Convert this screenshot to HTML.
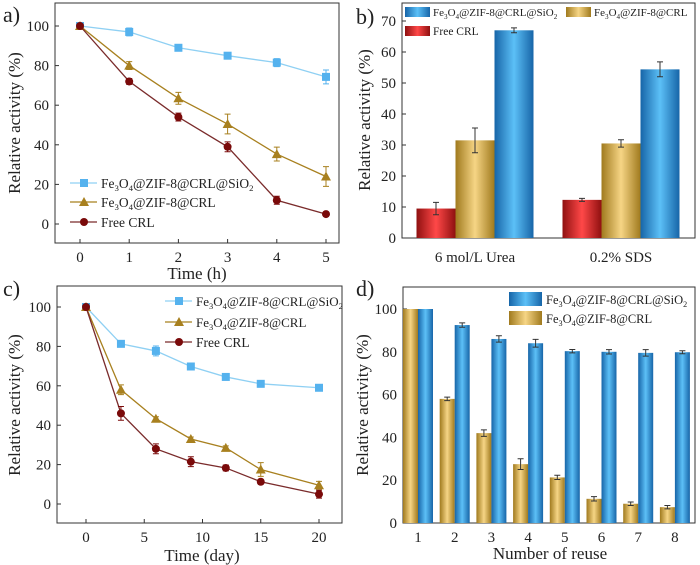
<!DOCTYPE html>
<html><head><meta charset="utf-8"><style>
html,body{margin:0;padding:0;background:#fff}
svg{display:block;font-family:"Liberation Serif",serif}
</style></head><body>
<svg id="s" width="700" height="565" viewBox="0 0 700 565" xmlns="http://www.w3.org/2000/svg">
<defs>
<linearGradient id="gB" x1="0" x2="1"><stop offset="0" stop-color="#1765a8"/><stop offset="0.5" stop-color="#5cc0f7"/><stop offset="1" stop-color="#1765a8"/></linearGradient>
<linearGradient id="gG" x1="0" x2="1"><stop offset="0" stop-color="#a07a1e"/><stop offset="0.5" stop-color="#f6d585"/><stop offset="1" stop-color="#a07a1e"/></linearGradient>
<linearGradient id="gR" x1="0" x2="1"><stop offset="0" stop-color="#8f1010"/><stop offset="0.5" stop-color="#ff4848"/><stop offset="1" stop-color="#8f1010"/></linearGradient>
</defs>
</svg>
<script>
// ---- data ----
const aX=[0,1,2,3,4,5];
const aSi=[100,97,89,85,81.5,74.3], aSiE=[0,2,1,1,2,3.5];
const aCr=[100,80,63.5,50.5,35.3,24], aCrE=[0,2,3,5,3.5,5];
const aFr=[100,72,54,39,12,5], aFrE=[0,1.5,2,2.5,2,1];
const aYT=[0,20,40,60,80,100], aXT=[0,1,2,3,4,5];
const cX=[0,3,6,9,12,15,20];
const cSi=[100,81.3,77.7,69.8,64.5,61,59], cSiE=[0,1.5,2.5,1,1.5,1.5,1.5];
const cCr=[100,58,43.3,33,28.5,17.5,9.5], cCrE=[0,2.5,1,1,1,3.5,2];
const cFr=[100,46,28,21.5,18.3,11.3,5], cFrE=[0,3.5,2.5,2.5,1.5,1,2];
const cXT=[0,5,10,15,20];
const bCats=["6 mol/L Urea","0.2% SDS"];
const bFr=[9.5,12.3], bFrE=[2,0.5];
const bCr=[31.5,30.5], bCrE=[4,1.2];
const bSi=[67,54.4], bSiE=[0.8,2.4];
const bYT=[0,10,20,30,40,50,60,70];
const dCats=["1","2","3","4","5","6","7","8"];
const dSi=[100,92.5,86,84,80.3,80,79.5,79.8], dSiE=[0,1,1.5,1.8,0.8,1,1.5,0.7];
const dCr=[100,58,42,27.5,21.3,11.3,9,7.4], dCrE=[0,0.8,1.5,2.5,1,1,0.8,0.8];
const dYT=[0,20,40,60,80,100];
// ---- helpers ----
const S=document.getElementById('s'),NS="http://www.w3.org/2000/svg";
function el(t,a,txt){const e=document.createElementNS(NS,t);for(const k in a)e.setAttribute(k,a[k]);if(txt!==undefined)e.textContent=txt;S.appendChild(e);return e;}
function lin(d0,d1,p0,p1){return v=>p0+(v-d0)*(p1-p0)/(d1-d0);}
function frame(x0,y0,x1,y1,name){const r=el('rect',{x:x0,y:y0,width:x1-x0,height:y1-y0,fill:'none',stroke:'#333','stroke-width':1});

}
function yAxis(ticks,y,x0,name){ticks.forEach(v=>{const t=el('text',{x:x0-6,y:y(v)+5,'font-size':15,'text-anchor':'end',fill:'#222'},v);


el('line',{x1:x0,x2:x0+4,y1:y(v),y2:y(v),stroke:'#333'});});}
function xTicks(ticks,x,yb,name){ticks.forEach(v=>{const t=el('text',{x:x(v),y:yb+19,'font-size':15,'text-anchor':'middle',fill:'#222'},v);


el('line',{x1:x(v),x2:x(v),y1:yb,y2:yb-4,stroke:'#333'});});}
function ytitle(cx,cy,name){const t=el('text',{x:0,y:0,'font-size':17,'text-anchor':'middle',fill:'#222',transform:`translate(${cx},${cy}) rotate(-90)`},'Relative activity (%)');

}
function txt(x,y,s,size,name,anchor){const t=el('text',{x:x,y:y,'font-size':size,'text-anchor':anchor||'start',fill:'#222'},s);

return t;}
function sub(x,y,size,name,parts){const t=el('text',{x:x,y:y,'font-size':size,fill:'#222'});


parts.forEach(p=>{const ts=document.createElementNS(NS,'tspan');ts.textContent=p[0];ts.setAttribute('font-size',p[2]?size*0.65:size);if(p[1])ts.setAttribute('dy',p[1]);t.appendChild(ts);});}
const lblSi=[["Fe"],["3",3,1],["O",-3],["4",3,1],["@ZIF-8@CRL@SiO",-3],["2",3,1]];
const lblCr=[["Fe"],["3",3,1],["O",-3],["4",3,1],["@ZIF-8@CRL",-3]];
function marker(type,x,y,c){let m;
if(type==='sq')m=el('rect',{x:x-4,y:y-4,width:8,height:8,fill:c});
else if(type==='tri')m=el('path',{d:`M${x},${y-5}L${x+5},${y+4}L${x-5},${y+4}Z`,fill:c});
else m=el('circle',{cx:x,cy:y,r:4,fill:c});return m;}
function errb(x,y,v,e,c,w){if(!e)return;el('path',{d:`M${x},${y(v-e)}V${y(v+e)}M${x-w},${y(v-e)}H${x+w}M${x-w},${y(v+e)}H${x+w}`,stroke:c,fill:'none','stroke-width':1});}
function series(xs,vals,errs,x,y,lc,mc,type,name){
const d=xs.map((v,i)=>(i?'L':'M')+x(v)+','+y(vals[i])).join('');
const p=el('path',{d:d,fill:'none',stroke:lc,'stroke-width':1.3});


xs.forEach((v,i)=>{errb(x(v),y,vals[i],errs[i],mc,3);const m=marker(type,x(v),y(vals[i]),mc);

});}
function legLine(x,y,lc,mc,type,parts,size,name){el('line',{x1:x,x2:x+27,y1:y,y2:y,stroke:lc,'stroke-width':1.3});marker(type,x+14,y,mc);sub(x+31,y+5,size,name,parts);}
function bar(xl,w,v,e,y,fill,name){const r=el('rect',{x:xl,y:y(v),width:w,height:y(0)-y(v),fill:fill});


errb(xl+w/2,y,v,e,'#333',3);}

const SI_L='#8fd0f3',SI_M='#55b2ee',CR='#a8801f',FR_L='#7a2b2b',FR_M='#7a0a0a';
// ---- panel a ----
{const x=lin(0,5,80,326),y=lin(0,100,224,26);
frame(55,3,339,243,'panel-a');yAxis(aYT,y,55,'panel-a');xTicks(aXT,x,243,'panel-a');
ytitle(20,123,'panel-a');txt(197,279,'Time (h)',17,'panel-a-x-axis-title','middle');txt(3,22,'a)',22,'panel-a-label');
series(aX,aSi,aSiE,x,y,SI_L,SI_M,'sq','panel-a-sio2');
series(aX,aCr,aCrE,x,y,CR,CR,'tri','panel-a-crl');
series(aX,aFr,aFrE,x,y,FR_L,FR_M,'circ','panel-a-free');
legLine(70,183,SI_L,SI_M,'sq',lblSi,13.5,'legend-a-sio2');
legLine(70,202,CR,CR,'tri',lblCr,13.5,'legend-a-crl');
legLine(70,222,FR_L,FR_M,'circ',[["Free CRL"]],13.5,'legend-a-free');}
// ---- panel b ----
{const y=lin(0,70,238,21),w=39,cx=[475,621];
frame(402,3,695,238,'panel-b');yAxis(bYT,y,402,'panel-b');
ytitle(370,120,'panel-b');txt(356,24,'b)',22,'panel-b-label');
bCats.forEach((c,i)=>{txt(cx[i],262,c,15,'panel-b-category-label','middle');
bar(cx[i]-1.5*w,w,bFr[i],bFrE[i],y,'url(#gR)','bar-free-'+i);
bar(cx[i]-0.5*w,w,bCr[i],bCrE[i],y,'url(#gG)','bar-crl-'+i);
bar(cx[i]+0.5*w,w,bSi[i],bSiE[i],y,'url(#gB)','bar-sio2-'+i);});
el('rect',{x:405,y:7,width:25,height:10,fill:'url(#gB)'});sub(433,16,11,'legend-b-sio2',lblSi);
el('rect',{x:566,y:7,width:25,height:10,fill:'url(#gG)'});sub(594,16,11,'legend-b-crl',lblCr);
el('rect',{x:405,y:26,width:25,height:10,fill:'url(#gR)'});sub(433,35,11.5,'legend-b-free',[["Free CRL"]]);}
// ---- panel c ----
{const x=lin(0,20,86,319),y=lin(0,100,504,307);
frame(57,286,342,523,'panel-c');yAxis(aYT,y,57,'panel-c');xTicks(cXT,x,523,'panel-c');
ytitle(20,405,'panel-c');txt(202,561,'Time (day)',17,'panel-c-x-axis-title','middle');txt(3,296,'c)',22,'panel-c-label');
series(cX,cSi,cSiE,x,y,SI_L,SI_M,'sq','panel-c-sio2');
series(cX,cCr,cCrE,x,y,CR,CR,'tri','panel-c-crl');
series(cX,cFr,cFrE,x,y,FR_L,FR_M,'circ','panel-c-free');
legLine(165,301,SI_L,SI_M,'sq',lblSi,13,'legend-c-sio2');
legLine(165,322,CR,CR,'tri',lblCr,13,'legend-c-crl');
legLine(165,342,FR_L,FR_M,'circ',[["Free CRL"]],13.5,'legend-c-free');}
// ---- panel d ----
{const y=lin(0,100,523,309),cx0=418,step=36.7,w=15;
frame(403,287,695,523,'panel-d');yAxis(dYT,y,403,'panel-d');
ytitle(368,405,'panel-d');txt(550,559,'Number of reuse',17,'panel-d-x-axis-title','middle');txt(356,296,'d)',22,'panel-d-label');
dCats.forEach((c,i)=>{const cx=cx0+i*step;txt(cx,542,c,15,'panel-d-x-tick-label','middle');
bar(cx-w,w,dCr[i],dCrE[i],y,'url(#gG)','bar-reuse-crl-'+c);
bar(cx,w,dSi[i],dSiE[i],y,'url(#gB)','bar-reuse-sio2-'+c);});
el('rect',{x:509,y:292,width:33,height:14,fill:'url(#gB)'});sub(546,304,12.5,'legend-d-sio2',lblSi);
el('rect',{x:509,y:311,width:33,height:14,fill:'url(#gG)'});sub(546,323,12.5,'legend-d-crl',lblCr);}
</script>
</body></html>
